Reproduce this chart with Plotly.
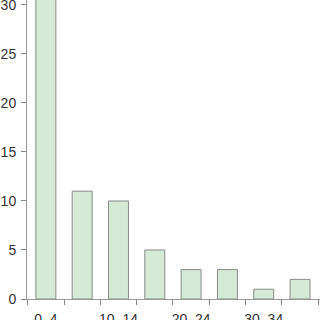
import plotly.graph_objects as go

categories = ["0–4", "5–9", "10–14", "15–19", "20–24", "25–29", "30–34", "35–39"]
values = [34, 11, 10, 5, 3, 3, 1, 2]
label_positions = [0, 2, 4, 6]
label_text = ["0–4", "10–14", "20–24", "30–34"]
y_ticks = [0, 5, 10, 15, 20, 25, 30]

x_pos = list(range(len(categories)))
boundaries = [i - 0.5 for i in range(len(categories) + 1)]

fig = go.Figure()
fig.add_trace(go.Bar(
    x=x_pos, y=values, width=0.55,
    marker=dict(color="#d4e9d6", line=dict(color="#8a8a8a", width=1)),
    hovertext=categories,
))
fig.add_trace(go.Scatter(x=[None], y=[None], xaxis="x2", showlegend=False))

xr = [-0.52, 7.55]
fig.update_layout(
    width=320, height=320,
    margin=dict(l=27, r=0, t=0, b=21, autoexpand=False),
    paper_bgcolor="white", plot_bgcolor="white",
    showlegend=False,
    font=dict(family="Liberation Sans, Arial, sans-serif", size=14, color="#333333"),
    xaxis=dict(
        range=xr, tickmode="array", tickvals=boundaries, ticktext=[""] * len(boundaries),
        ticks="outside", ticklen=5, tickcolor="#888888", tickwidth=1,
        showline=True, linecolor="#999999", linewidth=1,
        showgrid=False, zeroline=False, automargin=False,
    ),
    xaxis2=dict(
        range=xr, overlaying="x", side="bottom", tickmode="array",
        tickvals=label_positions, ticktext=label_text,
        ticks="", showline=False, showgrid=False, zeroline=False,
        tickfont=dict(size=14, color="#333333"),
        ticklabelstandoff=10, ticklabeloverflow="allow", automargin=False,
    ),
    yaxis=dict(
        range=[0, 30.5], tickmode="array", tickvals=y_ticks,
        ticks="outside", ticklen=5, tickcolor="#888888", tickwidth=1,
        showline=True, linecolor="#999999", linewidth=1,
        showgrid=False, zeroline=False, ticklabelstandoff=2,
        ticklabeloverflow="allow", automargin=False,
    ),
)

fig.write_html("out.html")
